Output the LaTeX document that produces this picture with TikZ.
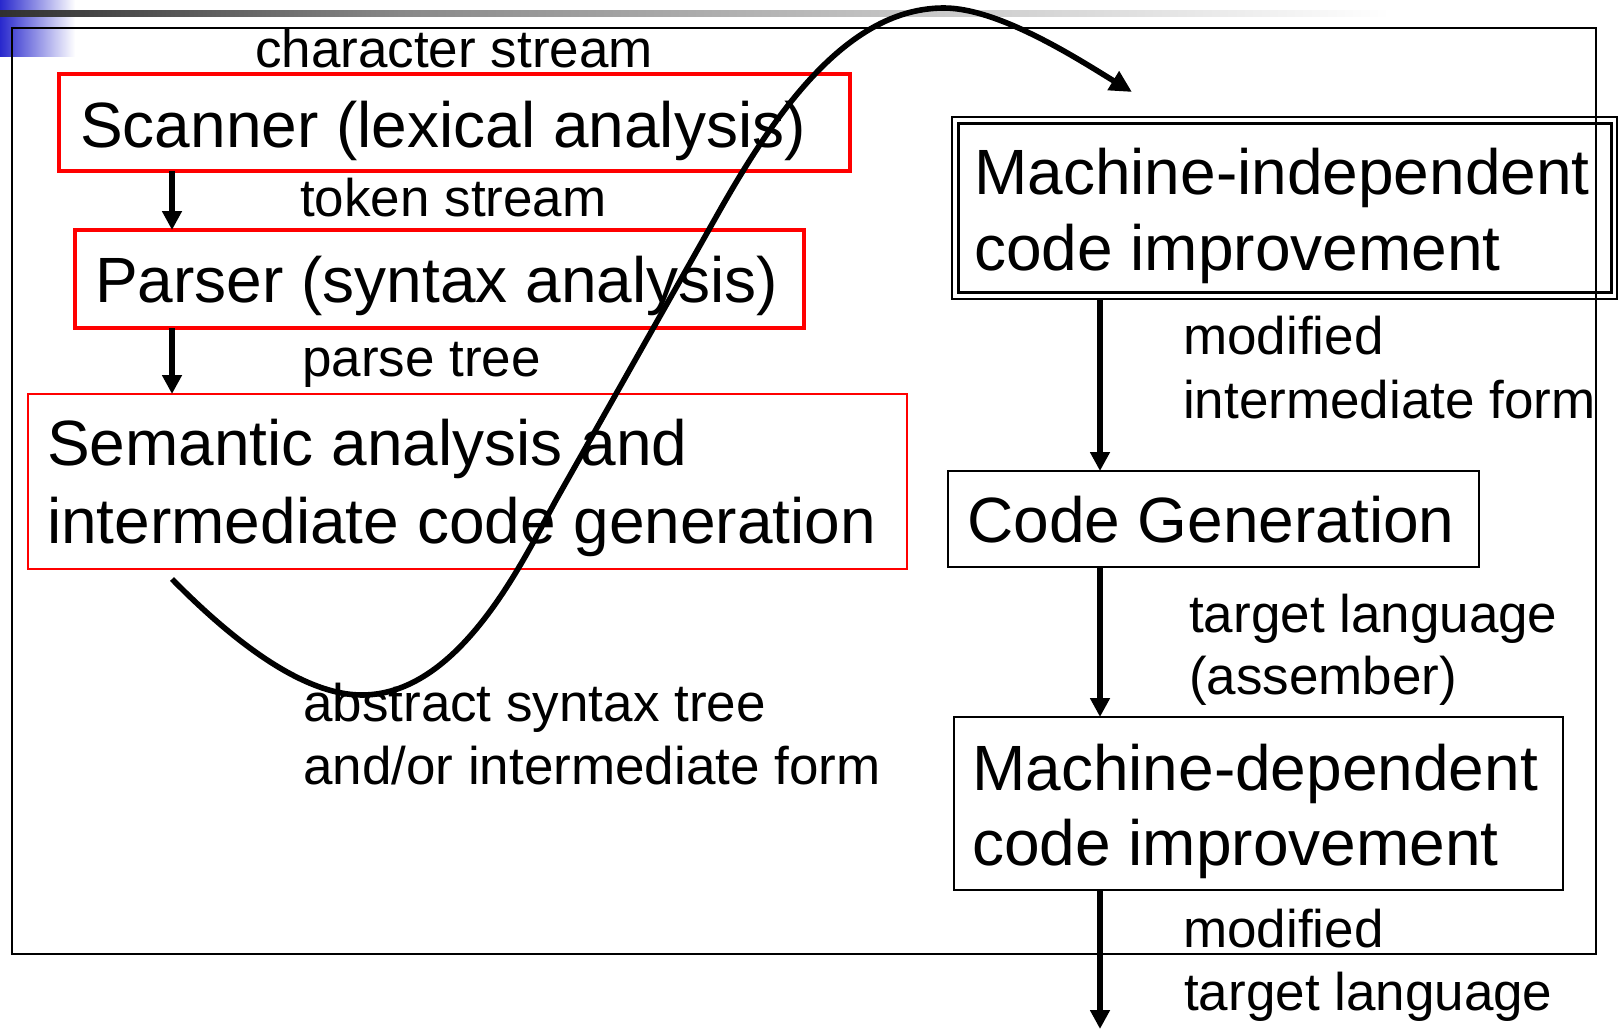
\documentclass[tikz,border=0pt]{standalone}
\usepackage{fontspec}
\setmainfont{Liberation Sans}
\usetikzlibrary{arrows.meta,calc}
\definecolor{barblue}{RGB}{40,40,205}
\definecolor{bardark}{RGB}{48,48,48}
\definecolor{barmid}{RGB}{136,136,136}
\begin{document}
\begin{tikzpicture}[x=1pt,y=-1pt,
  big/.style={font=\fontsize{64}{76}\selectfont, inner sep=0pt, anchor=base west},
  small/.style={font=\fontsize{53}{64}\selectfont, inner sep=0pt, anchor=base west},
  redthick/.style={draw=red, line width=3.5pt, rectangle, inner sep=0pt, outer sep=0pt, anchor=north west},
  redthin/.style={draw=red, line width=2pt, rectangle, inner sep=0pt, outer sep=0pt, anchor=north west},
  blackbox/.style={draw=black, line width=2pt, rectangle, inner sep=0pt, outer sep=0pt, anchor=north west},
  flow/.style={line width=6pt, -{Triangle[length=19pt,width=19pt]}},
  bigcurve/.style={line width=5.6pt, -{Triangle[length=22pt,width=21pt]}}
]
\useasboundingbox (0,0) rectangle (1619,1030);
% decorative header
\shade[left color=barblue, right color=white] (0,0) rectangle (75,57);
\shade[left color=bardark, right color=barmid] (0,11) rectangle (400,17);
\shade[left color=barmid, right color=white] (400,11) rectangle (1390,17);
% outer frame
\draw[line width=2pt] (12,28) rectangle (1596,954);

% left column boxes
\node[redthick, minimum width=791, minimum height=97] (scanner) at (59,74) {};
\node[redthick, minimum width=729, minimum height=98] (parser) at (75,230) {};
\node[redthin, minimum width=879, minimum height=175] (semantic) at (28,394) {};

% right column boxes
\node[blackbox, line width=1.6pt, minimum width=665, minimum height=182] (mi) at (952,117) {};
\node[draw=black, line width=3pt, rectangle, inner sep=0pt, minimum width=653, minimum height=169] (miinner) at (mi.center) {};
\node[blackbox, minimum width=531, minimum height=96] (cg) at (948,471) {};
\node[blackbox, minimum width=609, minimum height=173] (md) at (954,717) {};

% texts left
\node[small] (tcs) at (255,68) {character stream};
\node[big] (tscan) at (80,147) {Scanner (lexical analysis)};
\node[small] (tts) at (300,216) {token stream};
\node[big] (tpars) at (95,302) {Parser (syntax analysis)};
\node[small] (tpt) at (302,376) {parse tree};
\node[big] (tsem1) at (47,465) {Semantic analysis and};
\node[big] (tsem2) at (47,543) {intermediate code generation};
\node[small] (tast1) at (303,721) {abstract syntax tree};
\node[small] (tast2) at (303,784) {and/or intermediate form};

% texts right
\node[big] (tmi1) at (974,194) {Machine-independent};
\node[big] (tmi2) at (974,270) {code improvement};
\node[small] (tmod1) at (1183,354) {modified};
\node[small] (tmod2) at (1183,418) {intermediate form};
\node[big] (tcg) at (967,542) {Code Generation};
\node[small] (ttl1) at (1189,632) {target language};
\node[small] (ttl2) at (1189,694) {(assember)};
\node[big] (tmd1) at (972,790) {Machine-dependent};
\node[big] (tmd2) at (972,865) {code improvement};
\node[small] (tmt1) at (1183,947) {modified};
\node[small] (tmt2) at (1184,1010) {target language};

% vertical flow arrows
\coordinate (lx) at (172,0);
\coordinate (rx) at (1100,0);
\coordinate (outend) at (1100,1029);
\draw[flow] (lx |- scanner.south) -- (lx |- parser.north);
\draw[flow] (lx |- parser.south) -- (lx |- semantic.north);
\draw[flow] (rx |- mi.south) -- (rx |- cg.north);
\draw[flow] (rx |- cg.south) -- (rx |- md.north);
\draw[flow] (rx |- md.south) -- (outend);

% big curved arrow
\coordinate (cs) at (172,579);
\coordinate (ce) at (1132,92);
\draw[bigcurve] (cs) .. controls (228,636) and (300,695) .. (362,695)
  .. controls (465,695) and (530,545) .. (560,493)
  -- (720,210)
  .. controls (779,106) and (850,8) .. (944,8)
  .. controls (1000,8) and (1081,61) .. (ce);
\end{tikzpicture}
\end{document}
